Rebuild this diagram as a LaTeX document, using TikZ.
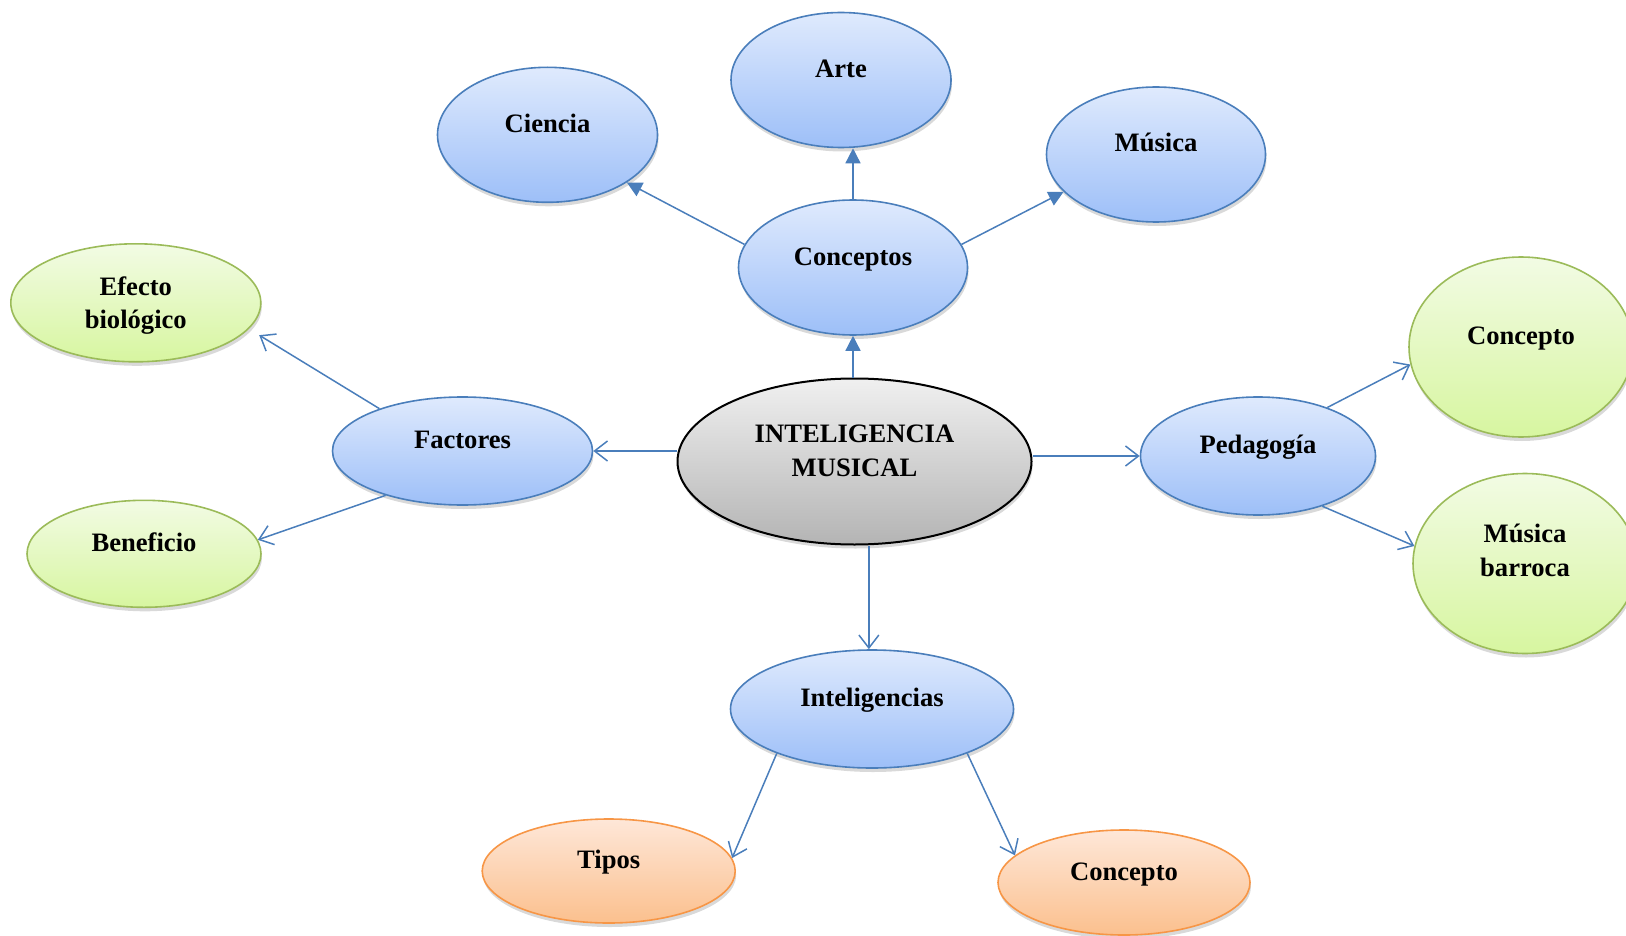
\documentclass[tikz,border=0pt]{standalone}
\usepackage{fontspec}
\setmainfont{Liberation Serif}
\usetikzlibrary{positioning,shapes,shadows,arrows.meta}
\definecolor{lineblue}{HTML}{4A7EBB}
\definecolor{bluetop}{HTML}{DFEAFD}
\definecolor{bluebot}{HTML}{9DBFF8}
\definecolor{greenline}{HTML}{9BBB59}
\definecolor{greentop}{HTML}{F2FBE4}
\definecolor{greenbot}{HTML}{D7F6A0}
\definecolor{orangeline}{HTML}{F79646}
\definecolor{orangetop}{HTML}{FEE7D8}
\definecolor{orangebot}{HTML}{FBC08E}
\definecolor{graytop}{HTML}{F0F0F0}
\definecolor{graybot}{HTML}{B4B4B4}
\tikzset{
	bubble/.style={
		ellipse,
		draw,
		line width=0.8pt,
		inner sep=2pt,
		align=center,
		font=\bfseries\fontsize{13.3}{16.6}\selectfont,
		text height=9pt,
		text depth=11.5pt,
		drop shadow={shadow xshift=0.5pt, shadow yshift=-2pt, opacity=0.3}
	},
	bluebubble/.style={bubble, draw=lineblue, top color=bluetop, bottom color=bluebot},
	greenbubble/.style={bubble, draw=greenline, top color=greentop, bottom color=greenbot},
	orangebubble/.style={bubble, draw=orangeline, top color=orangetop, bottom color=orangebot},
	link/.style={draw=lineblue, line width=0.75pt, -{Straight Barb[length=6.5pt,width=10pt]}},
	solidlink/.style={draw=lineblue, line width=0.75pt, -{Triangle[length=7.5pt,width=7.5pt]}}
}

\begin{document}
\begin{tikzpicture}[x=0.5pt, y=-0.5pt]
	\useasboundingbox (0,0) rectangle (1626,936);
	\node [bubble, draw=black, line width=1pt, top color=graytop, bottom color=graybot, minimum width=177pt, minimum height=83pt, text height=26pt, text depth=11.4pt] (ctr) at (854.5,461.5) {INTELIGENCIA\\MUSICAL};
	\node [bluebubble, minimum width=114.5pt, minimum height=67.5pt] (cpt) at (853,267.5) {Conceptos};
	\node [bluebubble, minimum width=110pt, minimum height=67.5pt] (art) at (841,80) {Arte};
	\node [bluebubble, minimum width=110pt, minimum height=67.5pt] (cie) at (547.5,134.8) {Ciencia};
	\node [bluebubble, minimum width=109.5pt, minimum height=67.5pt] (mus) at (1156,154.5) {Música};
	\node [bluebubble, minimum width=130pt, minimum height=54pt] (fac) at (462.5,451) {Factores};
	\node [greenbubble, minimum width=125pt, minimum height=59pt, text height=29pt, text depth=3pt] (efe) at (135.8,302.8) {Efecto\\biológico};
	\node [greenbubble, minimum width=117pt, minimum height=53.5pt] (ben) at (144,553.8) {Beneficio};
	\node [bluebubble, minimum width=117.5pt, minimum height=59pt] (ped) at (1258,456) {Pedagogía};
	\node [greenbubble, minimum width=112pt, minimum height=90pt] (con) at (1521,347) {Concepto};
	\node [greenbubble, minimum width=112pt, minimum height=90pt, text height=26pt, text depth=13.4pt] (mbr) at (1525,563.5) {Música\\barroca};
	\node [bluebubble, minimum width=141.5pt, minimum height=59pt] (int) at (872,709) {Inteligencias};
	\node [orangebubble, minimum width=126.5pt, minimum height=52pt] (tip) at (608.7,871) {Tipos};
	\node [orangebubble, minimum width=126pt, minimum height=52.5pt] (cob) at (1124,882.5) {Concepto};

	\draw [solidlink] (ctr.north -| cpt.south) -- (cpt.south);
	\draw [solidlink] (cpt.north) -- (cpt.north |- art.south);
	\draw [solidlink] (cpt.168) -- (cie.-31);
	\draw [solidlink] (cpt.12) -- (mus.-158);
	\draw [link] (ctr.west |- fac.east) -- (fac.east);
	\draw [link, shorten >=6pt] (fac.153) -- (efe.-13);
	\draw [link] (fac.-150) -- (ben.7);
	\draw [link] (ctr.east |- ped.west) -- (ped.west);
	\draw [link] (ped.35) -- (con.-171);
	\draw [link] (ped.-38) -- (mbr.171);
	\draw [link] (ctr.south -| int.93) -- (int.93);
	\draw [link] (int.-155) -- (tip.6);
	\draw [link] (int.-25) -- (cob.166);
\end{tikzpicture}
\end{document}
